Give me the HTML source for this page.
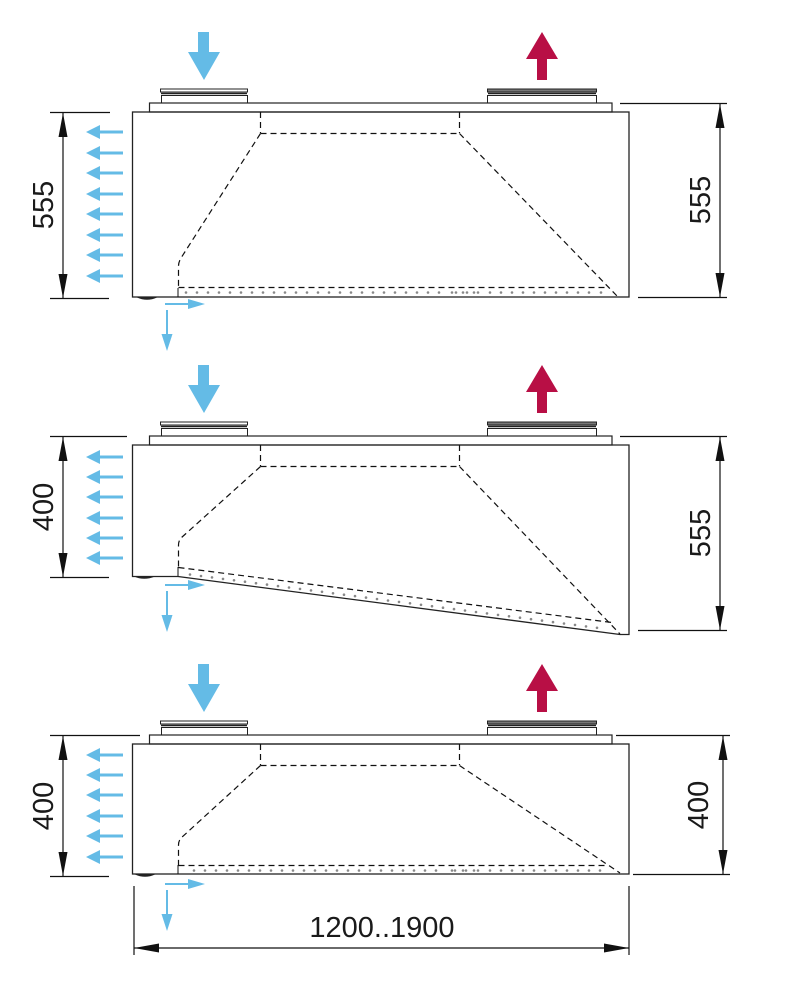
<!DOCTYPE html>
<html>
<head>
<meta charset="utf-8">
<style>
  html, body { margin: 0; padding: 0; background: #fff; }
  svg { display: block; }
  text { font-family: "Liberation Sans", "DejaVu Sans", sans-serif; fill: #1a1a1a; }
</style>
</head>
<body>
<svg width="794" height="995" viewBox="0 0 794 995" xmlns="http://www.w3.org/2000/svg">
  <defs>
    <g id="top">
      <rect x="160.5" y="89" width="87" height="3" fill="#fff" stroke="#222" stroke-width="1"/>
      <line x1="161" y1="93.5" x2="247" y2="93.5" stroke="#222" stroke-width="1.4"/>
      <rect x="161.5" y="95.5" width="86" height="7.5" fill="#fff" stroke="#222" stroke-width="1"/>
      <rect x="487.5" y="89" width="109" height="3" fill="#777" stroke="#222" stroke-width="1"/>
      <line x1="488" y1="93.5" x2="596" y2="93.5" stroke="#222" stroke-width="1.4"/>
      <rect x="487.5" y="95.5" width="109" height="7.5" fill="#fff" stroke="#222" stroke-width="1"/>
      <rect x="149.5" y="103" width="462.5" height="9" fill="#fff" stroke="#222" stroke-width="1.2"/>
      <polygon points="198,32 209,32 209,52 220,52 204,80 188,52 198,52" fill="#64bbe6"/>
      <polygon points="542,32 558,59 547,59 547,80 537,80 537,59 526,59" fill="#b80f45"/>
    </g>
    <g id="larrow">
      <rect x="98" y="-1.5" width="25" height="3" fill="#64bbe6"/>
      <polygon points="86,0 100,-7 100,7" fill="#64bbe6"/>
    </g>
    <g id="small">
      <rect x="165" y="-1" width="25" height="2" fill="#64bbe6"/>
      <polygon points="205,0 188,-5 188,5" fill="#64bbe6"/>
      <rect x="166" y="6" width="2" height="26" fill="#64bbe6"/>
      <polygon points="167,47 161.5,30 172.5,30" fill="#64bbe6"/>
    </g>
  </defs>

  <!-- ================= PANEL 1 ================= -->
  <use href="#top"/>
  <rect x="132.5" y="112" width="496.5" height="185" fill="none" stroke="#222" stroke-width="1.3"/>
  <path d="M137 297.5 Q147 302 157 297.5 Z" fill="#222"/>
  <g fill="none" stroke="#111" stroke-width="1.2" stroke-dasharray="6,4">
    <line x1="260.5" y1="112" x2="260.5" y2="133"/>
    <line x1="459.5" y1="112" x2="459.5" y2="133"/>
    <line x1="260.5" y1="133.5" x2="459.5" y2="133.5"/>
    <path d="M260.5 133.5 L181 258 Q178.5 262 178.5 266 L178.5 288"/>
    <line x1="178.5" y1="287.5" x2="609" y2="287.5"/>
    <line x1="459.5" y1="133.5" x2="618" y2="297"/>
  </g>
  <line x1="178" y1="288" x2="178" y2="297" stroke="#111" stroke-width="1"/>
  <g fill="#888">
    <circle cx="186" cy="292.5" r="1.3"/><circle cx="197" cy="292.5" r="1.3"/><circle cx="208" cy="292.5" r="1.3"/><circle cx="219" cy="292.5" r="1.3"/><circle cx="230" cy="292.5" r="1.3"/><circle cx="241" cy="292.5" r="1.3"/><circle cx="252" cy="292.5" r="1.3"/><circle cx="263" cy="292.5" r="1.3"/><circle cx="274" cy="292.5" r="1.3"/><circle cx="285" cy="292.5" r="1.3"/><circle cx="296" cy="292.5" r="1.3"/><circle cx="307" cy="292.5" r="1.3"/><circle cx="318" cy="292.5" r="1.3"/><circle cx="329" cy="292.5" r="1.3"/><circle cx="340" cy="292.5" r="1.3"/><circle cx="351" cy="292.5" r="1.3"/><circle cx="362" cy="292.5" r="1.3"/><circle cx="373" cy="292.5" r="1.3"/><circle cx="384" cy="292.5" r="1.3"/><circle cx="395" cy="292.5" r="1.3"/><circle cx="406" cy="292.5" r="1.3"/><circle cx="417" cy="292.5" r="1.3"/><circle cx="428" cy="292.5" r="1.3"/><circle cx="439" cy="292.5" r="1.3"/><circle cx="452" cy="292.5" r="1.3"/><circle cx="456" cy="292.5" r="1.3"/><circle cx="463" cy="292.5" r="1.3"/><circle cx="467" cy="292.5" r="1.3"/><circle cx="474" cy="292.5" r="1.3"/><circle cx="478" cy="292.5" r="1.3"/><circle cx="490" cy="292.5" r="1.3"/><circle cx="501" cy="292.5" r="1.3"/><circle cx="512" cy="292.5" r="1.3"/><circle cx="523" cy="292.5" r="1.3"/><circle cx="534" cy="292.5" r="1.3"/><circle cx="545" cy="292.5" r="1.3"/><circle cx="556" cy="292.5" r="1.3"/><circle cx="567" cy="292.5" r="1.3"/><circle cx="578" cy="292.5" r="1.3"/><circle cx="589" cy="292.5" r="1.3"/><circle cx="601" cy="292.5" r="1.3"/>
  </g>
  <use href="#larrow" transform="translate(0,132)"/>
  <use href="#larrow" transform="translate(0,153)"/>
  <use href="#larrow" transform="translate(0,173)"/>
  <use href="#larrow" transform="translate(0,194)"/>
  <use href="#larrow" transform="translate(0,214)"/>
  <use href="#larrow" transform="translate(0,235)"/>
  <use href="#larrow" transform="translate(0,255)"/>
  <use href="#larrow" transform="translate(0,276)"/>
  <use href="#small" transform="translate(0,304)"/>
  <g stroke="#111" stroke-width="1.2">
    <line x1="50" y1="112.5" x2="110" y2="112.5"/>
    <line x1="50" y1="298.5" x2="109" y2="298.5"/>
    <line x1="63" y1="113" x2="63" y2="298"/>
  </g>
  <polygon points="63,113 58.5,137 67.5,137" fill="#111"/>
  <polygon points="63,298 58.5,274 67.5,274" fill="#111"/>
  <text x="0" y="0" font-size="29" text-anchor="middle" transform="translate(53,205) rotate(-90)">555</text>
  <g stroke="#111" stroke-width="1.2">
    <line x1="620" y1="103.5" x2="727" y2="103.5"/>
    <line x1="638" y1="297.5" x2="727" y2="297.5"/>
    <line x1="720" y1="104" x2="720" y2="297"/>
  </g>
  <polygon points="720,104 715.5,128 724.5,128" fill="#111"/>
  <polygon points="720,297 715.5,273 724.5,273" fill="#111"/>
  <text x="0" y="0" font-size="29" text-anchor="middle" transform="translate(710,200) rotate(-90)">555</text>

  <!-- ================= PANEL 2 ================= -->
  <use href="#top" transform="translate(0,333)"/>
  <path d="M132.5 445 L629 445 L629 634.5 L620 634.5 L178 576.5 L132.5 576.5 Z" fill="none" stroke="#222" stroke-width="1.3"/>
  <path d="M134 576.5 Q144 581 155 576.5 Z" fill="#222"/>
  <g fill="none" stroke="#111" stroke-width="1.2" stroke-dasharray="6,4">
    <line x1="260.5" y1="445" x2="260.5" y2="466"/>
    <line x1="459.5" y1="445" x2="459.5" y2="466"/>
    <line x1="260.5" y1="466.5" x2="459.5" y2="466.5"/>
    <path d="M260.5 466.5 L181 538 Q178.5 541 178.5 545 L178.5 567"/>
    <line x1="178.5" y1="567.5" x2="612" y2="622.5"/>
    <line x1="459.5" y1="466.5" x2="620" y2="634"/>
  </g>
  <line x1="178" y1="567" x2="178" y2="576" stroke="#111" stroke-width="1"/>
  <g fill="#888">
    <circle cx="190" cy="574.5" r="1.3"/><circle cx="201" cy="576" r="1.3"/><circle cx="212" cy="577.4" r="1.3"/><circle cx="223" cy="578.9" r="1.3"/><circle cx="234" cy="580.3" r="1.3"/><circle cx="245" cy="581.7" r="1.3"/><circle cx="256" cy="583.2" r="1.3"/><circle cx="267" cy="584.6" r="1.3"/><circle cx="278" cy="586.1" r="1.3"/><circle cx="289" cy="587.5" r="1.3"/><circle cx="300" cy="588.9" r="1.3"/><circle cx="311" cy="590.4" r="1.3"/><circle cx="322" cy="591.8" r="1.3"/><circle cx="333" cy="593.3" r="1.3"/><circle cx="344" cy="594.7" r="1.3"/><circle cx="355" cy="596.1" r="1.3"/><circle cx="366" cy="597.6" r="1.3"/><circle cx="377" cy="599" r="1.3"/><circle cx="388" cy="600.5" r="1.3"/><circle cx="399" cy="601.9" r="1.3"/><circle cx="410" cy="603.3" r="1.3"/><circle cx="421" cy="604.8" r="1.3"/><circle cx="432" cy="606.2" r="1.3"/><circle cx="443" cy="607.7" r="1.3"/><circle cx="454" cy="609.1" r="1.3"/><circle cx="465" cy="610.5" r="1.3"/><circle cx="476" cy="612" r="1.3"/><circle cx="487" cy="613.4" r="1.3"/><circle cx="498" cy="614.9" r="1.3"/><circle cx="509" cy="616.3" r="1.3"/><circle cx="520" cy="617.7" r="1.3"/><circle cx="531" cy="619.2" r="1.3"/><circle cx="542" cy="620.6" r="1.3"/><circle cx="553" cy="622.1" r="1.3"/><circle cx="564" cy="623.5" r="1.3"/><circle cx="575" cy="624.9" r="1.3"/><circle cx="586" cy="626.4" r="1.3"/><circle cx="597" cy="627.8" r="1.3"/>
  </g>
  <use href="#larrow" transform="translate(0,457)"/>
  <use href="#larrow" transform="translate(0,477)"/>
  <use href="#larrow" transform="translate(0,497)"/>
  <use href="#larrow" transform="translate(0,518)"/>
  <use href="#larrow" transform="translate(0,538)"/>
  <use href="#larrow" transform="translate(0,558)"/>
  <use href="#small" transform="translate(0,585)"/>
  <g stroke="#111" stroke-width="1.2">
    <line x1="50" y1="436.5" x2="127" y2="436.5"/>
    <line x1="50" y1="577.5" x2="109" y2="577.5"/>
    <line x1="63" y1="437" x2="63" y2="577"/>
  </g>
  <polygon points="63,437 58.5,461 67.5,461" fill="#111"/>
  <polygon points="63,577 58.5,553 67.5,553" fill="#111"/>
  <text x="0" y="0" font-size="29" text-anchor="middle" transform="translate(53,507) rotate(-90)">400</text>
  <g stroke="#111" stroke-width="1.2">
    <line x1="620" y1="436.5" x2="727" y2="436.5"/>
    <line x1="638" y1="630.5" x2="727" y2="630.5"/>
    <line x1="720" y1="437" x2="720" y2="630"/>
  </g>
  <polygon points="720,437 715.5,461 724.5,461" fill="#111"/>
  <polygon points="720,630 715.5,606 724.5,606" fill="#111"/>
  <text x="0" y="0" font-size="29" text-anchor="middle" transform="translate(710,533) rotate(-90)">555</text>

  <!-- ================= PANEL 3 ================= -->
  <use href="#top" transform="translate(0,632)"/>
  <rect x="132.5" y="744" width="496.5" height="130" fill="none" stroke="#222" stroke-width="1.3"/>
  <path d="M135 874.5 Q145 879 155 874.5 Z" fill="#222"/>
  <g fill="none" stroke="#111" stroke-width="1.2" stroke-dasharray="6,4">
    <line x1="260.5" y1="744" x2="260.5" y2="765"/>
    <line x1="459.5" y1="744" x2="459.5" y2="765"/>
    <line x1="260.5" y1="765.5" x2="459.5" y2="765.5"/>
    <path d="M260.5 765.5 L181 838 Q178.5 841 178.5 845 L178.5 865"/>
    <line x1="178.5" y1="865.5" x2="606" y2="865.5"/>
    <line x1="459.5" y1="765.5" x2="620" y2="873"/>
  </g>
  <line x1="178" y1="865" x2="178" y2="874" stroke="#111" stroke-width="1"/>
  <g fill="#888">
    <circle cx="194" cy="870.5" r="1.3"/><circle cx="205" cy="870.5" r="1.3"/><circle cx="216" cy="870.5" r="1.3"/><circle cx="227" cy="870.5" r="1.3"/><circle cx="238" cy="870.5" r="1.3"/><circle cx="249" cy="870.5" r="1.3"/><circle cx="260" cy="870.5" r="1.3"/><circle cx="271" cy="870.5" r="1.3"/><circle cx="282" cy="870.5" r="1.3"/><circle cx="293" cy="870.5" r="1.3"/><circle cx="304" cy="870.5" r="1.3"/><circle cx="315" cy="870.5" r="1.3"/><circle cx="326" cy="870.5" r="1.3"/><circle cx="337" cy="870.5" r="1.3"/><circle cx="348" cy="870.5" r="1.3"/><circle cx="359" cy="870.5" r="1.3"/><circle cx="370" cy="870.5" r="1.3"/><circle cx="381" cy="870.5" r="1.3"/><circle cx="392" cy="870.5" r="1.3"/><circle cx="403" cy="870.5" r="1.3"/><circle cx="414" cy="870.5" r="1.3"/><circle cx="425" cy="870.5" r="1.3"/><circle cx="436" cy="870.5" r="1.3"/><circle cx="452" cy="870.5" r="1.3"/><circle cx="455" cy="870.5" r="1.3"/><circle cx="463" cy="870.5" r="1.3"/><circle cx="466" cy="870.5" r="1.3"/><circle cx="474" cy="870.5" r="1.3"/><circle cx="478" cy="870.5" r="1.3"/><circle cx="490" cy="870.5" r="1.3"/><circle cx="501" cy="870.5" r="1.3"/><circle cx="512" cy="870.5" r="1.3"/><circle cx="523" cy="870.5" r="1.3"/><circle cx="534" cy="870.5" r="1.3"/><circle cx="545" cy="870.5" r="1.3"/><circle cx="556" cy="870.5" r="1.3"/><circle cx="567" cy="870.5" r="1.3"/><circle cx="578" cy="870.5" r="1.3"/><circle cx="589" cy="870.5" r="1.3"/><circle cx="600" cy="870.5" r="1.3"/>
  </g>
  <use href="#larrow" transform="translate(0,755)"/>
  <use href="#larrow" transform="translate(0,775)"/>
  <use href="#larrow" transform="translate(0,795)"/>
  <use href="#larrow" transform="translate(0,816)"/>
  <use href="#larrow" transform="translate(0,836)"/>
  <use href="#larrow" transform="translate(0,857)"/>
  <use href="#small" transform="translate(0,884)"/>
  <g stroke="#111" stroke-width="1.2">
    <line x1="50" y1="735.5" x2="140" y2="735.5"/>
    <line x1="50" y1="876.5" x2="109" y2="876.5"/>
    <line x1="63" y1="736" x2="63" y2="876"/>
  </g>
  <polygon points="63,736 58.5,760 67.5,760" fill="#111"/>
  <polygon points="63,876 58.5,852 67.5,852" fill="#111"/>
  <text x="0" y="0" font-size="29" text-anchor="middle" transform="translate(53,806) rotate(-90)">400</text>
  <g stroke="#111" stroke-width="1.2">
    <line x1="616" y1="735.5" x2="730" y2="735.5"/>
    <line x1="633" y1="874.5" x2="730" y2="874.5"/>
    <line x1="723" y1="736" x2="723" y2="874"/>
  </g>
  <polygon points="723,736 718.5,760 727.5,760" fill="#111"/>
  <polygon points="723,874 718.5,850 727.5,850" fill="#111"/>
  <text x="0" y="0" font-size="29" text-anchor="middle" transform="translate(708,805) rotate(-90)">400</text>

  <!-- bottom width dimension -->
  <g stroke="#111" stroke-width="1.2">
    <line x1="134" y1="886" x2="134" y2="955"/>
    <line x1="629" y1="886" x2="629" y2="955"/>
    <line x1="134" y1="948" x2="629" y2="948"/>
  </g>
  <polygon points="134,948 159,943.5 159,952.5" fill="#111"/>
  <polygon points="629,948 604,943.5 604,952.5" fill="#111"/>
  <text x="382" y="937" font-size="29" text-anchor="middle">1200..1900</text>
</svg>
</body>
</html>
